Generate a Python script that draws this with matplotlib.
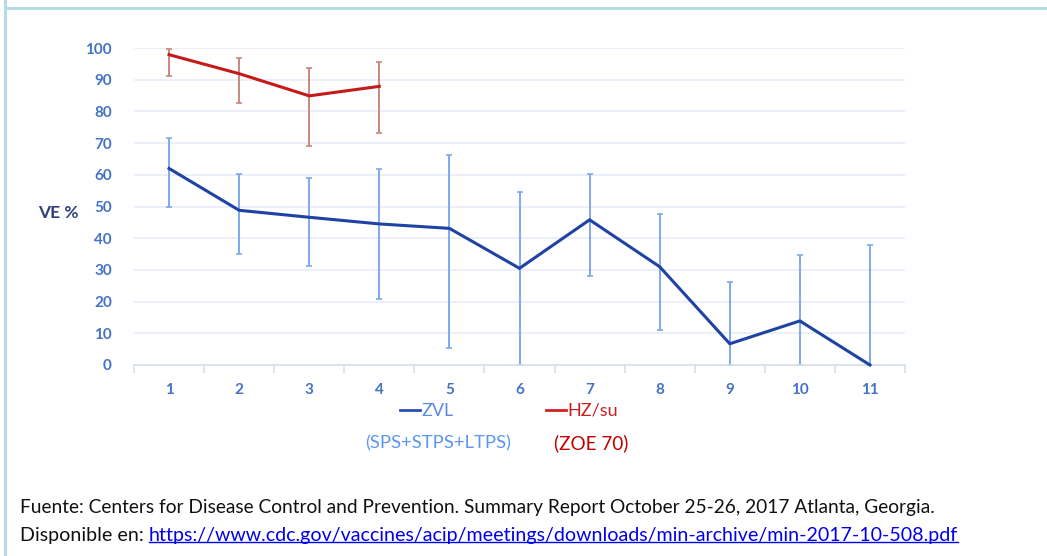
import matplotlib
matplotlib.use("Agg")
import matplotlib.pyplot as plt
from matplotlib.lines import Line2D

# --- data ---
categories = [1, 2, 3, 4, 5, 6, 7, 8, 9, 10, 11]
zvl_ve = [62, 48.8, 46.6, 44.5, 43.1, 30.5, 45.8, 31, 6.7, 13.9, 0]
zvl_low = [49.7, 35, 31.2, 20.8, 5.4, 0, 28.2, 11, 0, 0, 0]
zvl_high = [71.6, 60.1, 59.1, 61.8, 66.4, 54.5, 60.1, 47.5, 26.3, 34.7, 37.7]

hz_cats = [1, 2, 3, 4]
hz_ve = [97.9, 91.9, 84.9, 87.9]
hz_low = [91.1, 82.7, 69.1, 73.3]
hz_high = [99.8, 96.9, 93.7, 95.5]

y_ticks = [0, 10, 20, 30, 40, 50, 60, 70, 80, 90, 100]

source_line1 = ("Fuente: Centers for Disease Control and Prevention. "
                "Summary Report October 25-26, 2017 Atlanta, Georgia.")
source_prefix = "Disponible en: "
source_link = "https://www.cdc.gov/vaccines/acip/meetings/downloads/min-archive/min-2017-10-508.pdf"

FONT = ["Lato", "DejaVu Sans"]
plt.rcParams["font.family"] = FONT

W, H = 1047, 556
fig = plt.figure(figsize=(W / 100, H / 100), dpi=100)


def fx(px):
    return px / W


def fy(py):
    return 1 - py / H


# frame lines
frame_col = "#B3DCE5"
fig.add_artist(Line2D([fx(4.5), fx(4.5)], [0, 1], color=frame_col, lw=2.2))
fig.add_artist(Line2D([fx(4.5), 1], [fy(8), fy(8)], color=frame_col, lw=2.2))

ax = fig.add_axes([fx(134), fy(365), fx(905) - fx(134), fy(48) - fy(365)])
ax.set_xlim(0.5, 11.5)
ax.set_ylim(0, 100)

for side in ["top", "right", "left"]:
    ax.spines[side].set_visible(False)
ax.spines["bottom"].set_color("#D6DFF0")
ax.spines["bottom"].set_linewidth(1.2)

ax.set_yticks(y_ticks)
ax.yaxis.grid(True, color="#E6ECF8", lw=1.2)
ax.set_axisbelow(True)
ax.tick_params(axis="y", length=0, pad=16, labelsize=11, labelcolor="#4472C4")
for lab in ax.get_yticklabels():
    lab.set_fontweight("bold")

ax.set_xticks(categories)
ax.set_xticks([c - 0.5 for c in categories] + [11.5], minor=True)
ax.tick_params(axis="x", which="major", length=0, pad=13, labelsize=11,
               labelcolor="#4472C4")
ax.tick_params(axis="x", which="minor", length=6, width=1.2, color="#D6DFF0")
for lab in ax.get_xticklabels():
    lab.set_fontweight("bold")

# ZVL series
zvl_err = [[v - lo for v, lo in zip(zvl_ve, zvl_low)],
           [hi - v for v, hi in zip(zvl_ve, zvl_high)]]
ax.errorbar(categories, zvl_ve, yerr=zvl_err, fmt="none", ecolor="#7FA8EE",
            elinewidth=1.4, capsize=2.5, capthick=1.2, clip_on=False, zorder=2)
ax.plot(categories, zvl_ve, color="#1F43A3", lw=2.2, zorder=3,
        solid_joinstyle="miter", clip_on=False)

# HZ/su series
hz_err = [[v - lo for v, lo in zip(hz_ve, hz_low)],
          [hi - v for v, hi in zip(hz_ve, hz_high)]]
ax.errorbar(hz_cats, hz_ve, yerr=hz_err, fmt="none", ecolor="#C9877C",
            elinewidth=1.4, capsize=2.5, capthick=1.2, clip_on=False, zorder=2)
ax.plot(hz_cats, hz_ve, color="#C51A1A", lw=2.2, zorder=3, clip_on=False)

fig.text(fx(38), fy(213), "VE %", fontsize=12.5, fontweight="bold",
         color="#2E3F7A", va="center")

# legend-like labels
fig.add_artist(Line2D([fx(400), fx(420)], [fy(410), fy(410)], color="#2A4FAE", lw=2))
fig.text(fx(421), fy(411), "ZVL", fontsize=13, color="#5B8BE0", va="center")
fig.add_artist(Line2D([fx(546), fx(566)], [fy(410), fy(410)], color="#D42020", lw=2))
fig.text(fx(567), fy(411), "HZ/su", fontsize=13, color="#C81E1E", va="center")
fig.text(fx(438.5), fy(443), "(SPS+STPS+LTPS)", fontsize=13.3, color="#5B96F0",
         va="center", ha="center")
fig.text(fx(591), fy(443), "(ZOE 70)", fontsize=13.6, color="#C00000",
         va="center", ha="center")

# source note
fig.text(fx(20), fy(508), source_line1, fontsize=13.75, color="#111111",
         va="center")
pre = fig.text(fx(20), fy(535), source_prefix, fontsize=14.1, color="#111111",
               va="center")
fig.canvas.draw()
r = fig.canvas.get_renderer()
bb = pre.get_window_extent(r)
link = fig.text(bb.x1 / W, fy(535), source_link, fontsize=14.1,
                color="#0000EE", va="center")
lb = link.get_window_extent(r)
fig.add_artist(Line2D([lb.x0 / W, lb.x1 / W], [lb.y0 / H + 0.003, lb.y0 / H + 0.003],
                      color="#0000EE", lw=1))

fig.savefig("out.png", dpi=100)
